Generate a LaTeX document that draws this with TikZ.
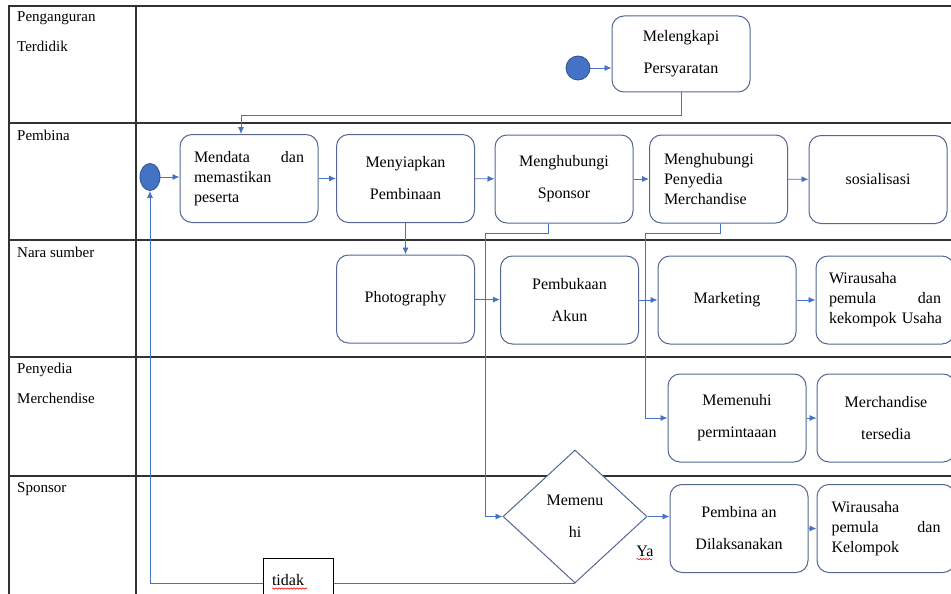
\documentclass[tikz,border=0pt]{standalone}
\usepackage{fontspec}
\setmainfont{Liberation Serif}
\usetikzlibrary{arrows.meta,shapes.geometric,decorations.pathmorphing}

\definecolor{flowblue}{RGB}{68,114,196}
\definecolor{boxline}{RGB}{84,104,146}
\definecolor{dotline}{RGB}{47,82,143}
\definecolor{gridline}{RGB}{50,50,50}

\begin{document}
\begin{tikzpicture}[x=1pt,y=-1pt,
	font=\fontsize{16}{20}\selectfont,
	act/.style={draw=boxline,line width=1pt,rounded corners=12pt,minimum width=138pt,minimum height=88pt,align=center,inner sep=4pt,fill=white},
	decide/.style={diamond,draw=boxline,line width=1pt,minimum width=144pt,minimum height=133pt,inner sep=0pt,align=center,fill=white},
	startdot/.style={ellipse,fill=flowblue,draw=dotline,line width=0.8pt,inner sep=0pt},
	lane/.style={anchor=north west,align=left,inner sep=0pt,font=\fontsize{15}{30}\selectfont},
	flow/.style={draw=flowblue,line width=0.9pt,-{Latex[length=7pt,width=6pt]}},
	wavy/.style={draw=red,line width=0.6pt,decorate,decoration={snake,amplitude=0.7pt,segment length=3pt}}]
			
			\useasboundingbox (0,0) rectangle (951,594);
			\clip (0,0) rectangle (951,594);
			\fill[white] (0,0) rectangle (951,594);
			
			% Lanes
			\draw[gridline,line width=1.1pt] (960,6) -- (9,6) -- (9,600);
			\draw[gridline,line width=1.1pt] (136,6) -- (136,600);
			\foreach \y in {123,240,357,476}
				\draw[gridline,line width=1.1pt] (9,\y) -- (960,\y);
			
			\node[lane] (lpengangguran) at (17,11) {Penganguran\\Terdidik};
			\node[lane] (lpembina) at (17,130) {Pembina};
			\node[lane] (lnarasumber) at (17,247) {Nara sumber};
			\node[lane] (lpenyedia) at (17,363) {Penyedia\\Merchendise};
			\node[lane] (lsponsor) at (17,482) {Sponsor};
			
			% Start points
			\node[startdot,minimum width=24pt,minimum height=24pt] (start1) at (578,68) {};
			\node[startdot,minimum width=20pt,minimum height=27pt] (start2) at (150,177) {};
			
			% Activities
			\node[act,minimum height=76pt] (melengkapi) at (681,54) {Melengkapi\\[12pt]Persyaratan};
			
			\node[act,text width=110pt,align=left] (mendata) at (249,178.5) {Mendata\hfill dan\\memastikan\\peserta};
			\node[act] (menyiapkan) at (405.5,178.5) {Menyiapkan\\[12pt]Pembinaan};
			\node[act] (hubsponsor) at (564,179) {Menghubungi\\[12pt]Sponsor};
			\node[act,text width=109pt,align=left] (hubpenyedia) at (718.5,179) {Menghubungi\\Penyedia\\Merchandise};
			\node[act] (sosialisasi) at (878,179.5) {sosialisasi};
			
			\node[act] (photo) at (405.5,299) {Photography};
			\node[act] (pembukaan) at (569.5,300) {Pembukaan\\[12pt]Akun};
			\node[act] (marketing) at (727,300) {Marketing};
			\node[act,text width=112pt,align=left] (wira1) at (885,300) {Wirausaha\\pemula\hfill dan\\\mbox{kekompok Usaha}};
			
			\node[act] (memenuhi) at (737,418) {Memenuhi\\[12pt]permintaaan};
			\node[act] (tersedia) at (886,418) {Merchandise\\[12pt]tersedia};
			
			\node[decide] (cek) at (575,516.5) {Memenu\\[12pt]hi};
			\node[act] (dilaksanakan) at (739,528.5) {Pembina an\\[12pt]Dilaksanakan};
			\node[act,text width=109pt,align=left] (wira2) at (886,528.5) {Wirausaha\\pemula\hfill dan\\Kelompok};
			
			% Flows
			\draw[flow] (start1.east) -- (start1.east -| melengkapi.west);
			\draw[flow] (melengkapi.south) -- ++(0,23) -| ([xshift=-8pt]mendata.north);
			\draw[flow] (start2.east) -- (mendata.west |- start2.east);
			\draw[flow] (mendata) -- (menyiapkan);
			\draw[flow] (menyiapkan) -- (hubsponsor);
			\draw[flow] (hubsponsor) -- (hubpenyedia);
			\draw[flow] (hubpenyedia) -- (sosialisasi);
			\draw[flow] (menyiapkan) -- (photo);
			\draw[flow] (photo) -- (pembukaan);
			\draw[flow] (pembukaan) -- (marketing);
			\draw[flow] (marketing) -- (wira1);
			\draw[flow] (memenuhi) -- (tersedia);
			\draw[flow] ([xshift=-16pt]hubsponsor.south) -- ++(0,10) -| ([xshift=-17pt]cek.west) -- (cek.west);
			\draw[flow] ([xshift=1.5pt]hubpenyedia.south) -- ++(0,10) -| ([xshift=-22pt]memenuhi.west) -- (memenuhi.west);
			\draw[flow] (cek.east) -- (cek.east -| dilaksanakan.west);
			\draw[flow] (dilaksanakan) -- (wira2);
			\draw[flow] (cek.south) -| (start2.south);
			
			% Guard labels
			\node[draw=black,line width=0.8pt,fill=white,minimum height=44pt,text width=52pt,inner xsep=9pt,align=left] (tidak) at (298,580) {tidak};
			\draw[wavy] ([yshift=-3pt]tidak.text) -- ++(35,0);
			\node[inner sep=0pt] (ya) at (645,551) {Ya};
			\draw[wavy] ([yshift=-3pt]ya.text) -- ++(16,0);
			
		\end{tikzpicture}
\end{document}
